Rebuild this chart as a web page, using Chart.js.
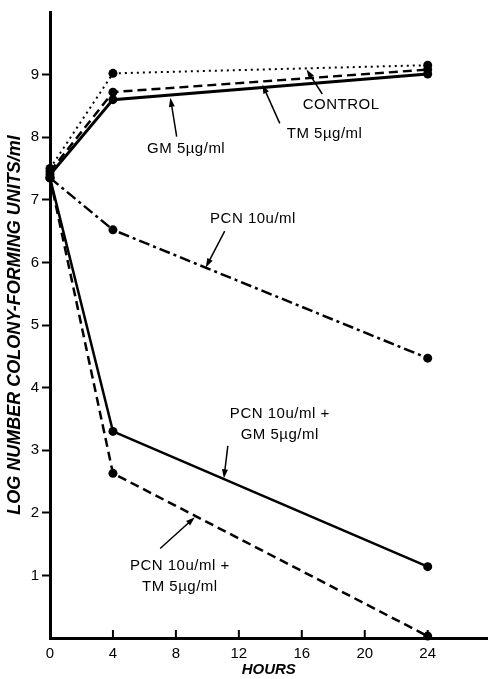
<!DOCTYPE html>
<html lang="en">
<head>
  <meta charset="UTF-8">
  <title>Log number colony-forming units</title>
  <style>
    body {
      margin: 0;
      background: #fff;
    }
    #chart {
      display: block;
    }
  </style>
</head>
<body>

  <canvas id="chart" width="492" height="679"></canvas>

  <script src="https://cdn.jsdelivr.net/npm/chart.js"></script>
  <script>
    // values (hours vs log CFU/ml)
    const hours = [0, 4, 24];
    const control = [7.5, 9.02, 9.15];
    const tm5 = [7.45, 8.72, 9.08];
    const gm5 = [7.4, 8.6, 9.01];
    const pcn10 = [7.35, 6.52, 4.47];
    const pcnGm = [7.35, 3.3, 1.14];
    const pcnTm = [7.35, 2.63, 0.03];

    const xTicks = [0, 4, 8, 12, 16, 20, 24];
    const yTicks = [1, 2, 3, 4, 5, 6, 7, 8, 9];

    const FONT = '"Liberation Sans", Arial, sans-serif';

    // labels with arrows, placed in data units
    const notes = [
      { lines: ['CONTROL'], x: 18.5, y: 8.52, from: [17.3, 8.69], to: [16.3, 9.08] },
      { lines: ['TM 5\u00b5g/ml'], x: 17.45, y: 8.06, from: [14.6, 8.22], to: [13.5, 8.84] },
      { lines: ['GM 5\u00b5g/ml'], x: 8.65, y: 7.82, from: [8.05, 8.01], to: [7.65, 8.63] },
      { lines: ['PCN 10u/ml'], x: 12.9, y: 6.69, from: [11.1, 6.5], to: [9.9, 5.92] },
      { lines: ['PCN 10u/ml +', 'GM 5\u00b5g/ml'], x: 14.6, y: 3.58, from: [11.3, 3.07], to: [11.05, 2.55] },
      { lines: ['PCN 10u/ml +', 'TM 5\u00b5g/ml'], x: 8.25, y: 1.16, from: [7.0, 1.43], to: [9.2, 1.93] }
    ];

    function pts(vals) {
      return hours.map((h, i) => ({ x: h, y: vals[i] }));
    }

    function series(vals, width, dash) {
      return {
        data: pts(vals),
        borderColor: '#000',
        backgroundColor: '#000',
        borderWidth: width,
        borderDash: dash,
        pointRadius: 4.5,
        pointHoverRadius: 4.5,
        pointBorderWidth: 0,
        tension: 0,
        clip: false
      };
    }

    // inward tick marks on the hours axis + the arrow labels
    const extras = {
      id: 'extras',
      afterDraw(chart) {
        const ctx = chart.ctx;
        const xs = chart.scales.x;
        const ys = chart.scales.y;
        const base = chart.chartArea.bottom;

        ctx.save();
        ctx.strokeStyle = '#000';
        ctx.lineWidth = 2;
        xTicks.forEach(v => {
          if (v === 0) return;
          const px = xs.getPixelForValue(v);
          ctx.beginPath();
          ctx.moveTo(px, base);
          ctx.lineTo(px, base - 8);
          ctx.stroke();
        });

        ctx.fillStyle = '#000';
        ctx.font = '15px ' + FONT;
        ctx.letterSpacing = '0.5px';
        ctx.textAlign = 'center';
        ctx.textBaseline = 'middle';
        notes.forEach(n => {
          const cx = xs.getPixelForValue(n.x);
          const cy = ys.getPixelForValue(n.y);
          n.lines.forEach((t, i) => ctx.fillText(t, cx, cy + i * 21));

          const x1 = xs.getPixelForValue(n.from[0]);
          const y1 = ys.getPixelForValue(n.from[1]);
          const x2 = xs.getPixelForValue(n.to[0]);
          const y2 = ys.getPixelForValue(n.to[1]);
          const a = Math.atan2(y2 - y1, x2 - x1);
          ctx.lineWidth = 1.5;
          ctx.beginPath();
          ctx.moveTo(x1, y1);
          ctx.lineTo(x2 - 6 * Math.cos(a), y2 - 6 * Math.sin(a));
          ctx.stroke();
          ctx.beginPath();
          ctx.moveTo(x2, y2);
          ctx.lineTo(x2 - 9 * Math.cos(a) + 3 * Math.sin(a), y2 - 9 * Math.sin(a) - 3 * Math.cos(a));
          ctx.lineTo(x2 - 9 * Math.cos(a) - 3 * Math.sin(a), y2 - 9 * Math.sin(a) + 3 * Math.cos(a));
          ctx.closePath();
          ctx.fill();
        });
        ctx.restore();
      }
    };

    new Chart(document.getElementById('chart'), {
      type: 'line',
      data: {
        datasets: [
          series(control, 2, [2, 4]),
          series(tm5, 2.5, [9, 5]),
          series(gm5, 3, []),
          series(pcn10, 2.5, [11, 4, 3, 4]),
          series(pcnGm, 2.5, []),
          series(pcnTm, 2.5, [9, 5])
        ]
      },
      options: {
        responsive: false,
        animation: false,
        devicePixelRatio: 1,
        layout: { padding: { top: 10, right: 0, left: 0, bottom: 0 } },
        plugins: {
          legend: { display: false },
          tooltip: { enabled: false }
        },
        scales: {
          x: {
            type: 'linear',
            min: 0,
            max: 27.8,
            afterBuildTicks: s => { s.ticks = xTicks.map(v => ({ value: v })); },
            afterFit: s => { s.height = 41; },
            grid: { display: false, drawTicks: false },
            border: { display: true, color: '#000', width: 3 },
            ticks: {
              color: '#000',
              padding: 7,
              maxRotation: 0,
              autoSkip: false,
              font: { family: FONT, size: 15 }
            },
            title: {
              display: true,
              text: 'HOURS',
              color: '#000',
              padding: { top: 0, bottom: 0 },
              font: { family: FONT, size: 15, weight: 'bold', style: 'italic' }
            }
          },
          y: {
            type: 'linear',
            min: 0,
            max: 10,
            afterBuildTicks: s => { s.ticks = yTicks.map(v => ({ value: v })); },
            afterFit: s => { s.width = 50; },
            grid: {
              drawOnChartArea: false,
              drawTicks: true,
              tickLength: 8,
              tickWidth: 2,
              color: '#000'
            },
            border: { display: true, color: '#000', width: 3 },
            ticks: {
              color: '#000',
              padding: 3,
              autoSkip: false,
              font: { family: FONT, size: 15 }
            },
            title: {
              display: true,
              text: 'LOG NUMBER COLONY-FORMING UNITS/ml',
              color: '#000',
              padding: { top: 4, bottom: 0 },
              font: { family: FONT, size: 18, weight: 'bold', style: 'italic' }
            }
          }
        }
      },
      plugins: [extras]
    });
  </script>
</body>
</html>
